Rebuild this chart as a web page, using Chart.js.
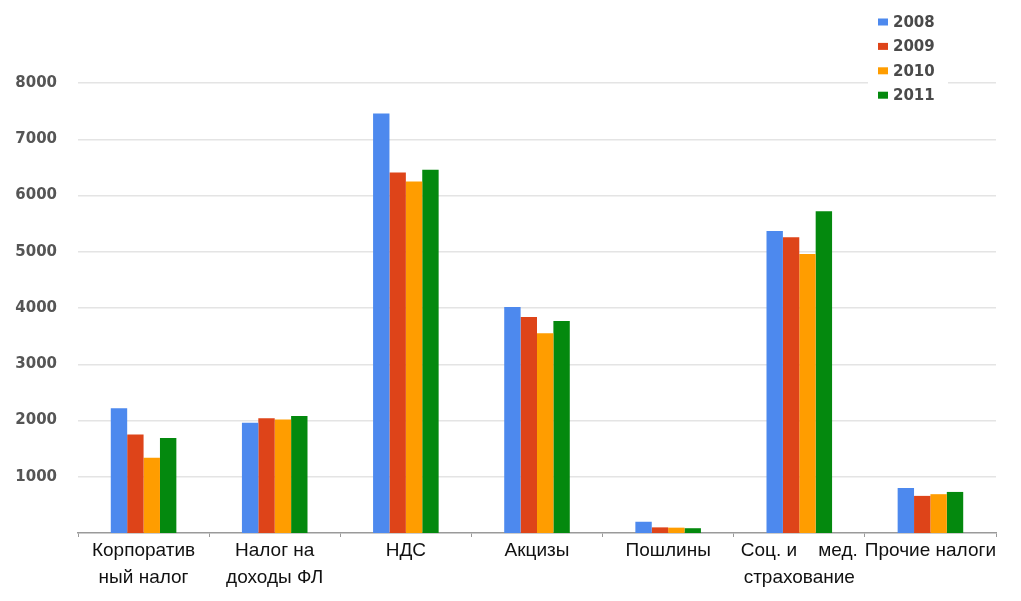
<!DOCTYPE html>
<html>
<head>
<meta charset="utf-8">
<script src="https://cdn.jsdelivr.net/npm/chart.js@4"></script>
<style>
  html, body { margin: 0; padding: 0; background: #fff; }
  #wrap { position: relative; width: 1021px; height: 601px; }
</style>
</head>
<body>
<div id="wrap"><canvas id="c"></canvas></div>
<script>
// Налоговые поступления по видам налогов, 2008–2011
const categories = [
  ['Корпоратив', 'ный налог'],
  ['Налог на', 'доходы ФЛ'],
  'НДС',
  'Акцизы',
  'Пошлины',
  ['Соц. и    мед.', 'страхование'],
  'Прочие налоги'
];
const years = ['2008', '2009', '2010', '2011'];
const values2008 = [2220, 1960, 7460, 4020, 200, 5370, 800];
const values2009 = [1750, 2040, 6410, 3840, 100, 5260, 660];
const values2010 = [1340, 2020, 6250, 3550, 95, 4960, 690];
const values2011 = [1690, 2080, 6460, 3770, 85, 5720, 730];
const yTicks = [1000, 2000, 3000, 4000, 5000, 6000, 7000, 8000];

const colors = ['#4d89ee', '#de4419', '#ff9d00', '#04890e'];
const series = [values2008, values2009, values2010, values2011];

// vertical legend box in the top-right corner, drawn over the plot
const cornerLegend = {
  id: 'cornerLegend',
  afterDraw(chart) {
    const ctx = chart.ctx;
    ctx.save();
    ctx.fillStyle = '#fff';
    ctx.fillRect(868, 8, 80, 100);
    ctx.font = 'bold 15px "DejaVu Sans"';
    ctx.textBaseline = 'middle';
    ctx.textAlign = 'left';
    chart.data.datasets.forEach((ds, i) => {
      const y = 22 + i * 24.4;
      ctx.fillStyle = ds.backgroundColor;
      ctx.fillRect(878, y - 3.5, 10, 7);
      ctx.fillStyle = '#4a4a4a';
      ctx.fillText(ds.label, 893, y + 1);
    });
    ctx.restore();
  }
};

new Chart(document.getElementById('c'), {
  type: 'bar',
  data: {
    labels: categories,
    datasets: years.map((y, i) => ({
      label: y,
      data: series[i],
      backgroundColor: colors[i],
      borderWidth: 0,
      categoryPercentage: 0.5,
      barPercentage: 1.0
    }))
  },
  options: {
    responsive: true,
    maintainAspectRatio: false,
    animation: false,
    layout: { padding: { top: 83, right: 25, left: 0, bottom: 0 } },
    plugins: {
      legend: { display: false },
      tooltip: { enabled: false }
    },
    scales: {
      x: {
        grid: {
          drawOnChartArea: false,
          drawTicks: true,
          tickLength: 4,
          color: '#9a9a9a',
          lineWidth: 1
        },
        border: { display: true, color: '#9a9a9a', width: 1.5 },
        ticks: {
          color: '#111',
          padding: 0,
          maxRotation: 0,
          autoSkip: false,
          font: { family: '"Liberation Sans", Arial, sans-serif', size: 19, lineHeight: 1.42 }
        },
        afterFit(scale) {
          scale.height = 68;
          scale.paddingLeft = 0;
          scale.paddingRight = 0;
        }
      },
      y: {
        min: 0,
        max: 8000,
        afterBuildTicks(scale) {
          scale.ticks = yTicks.map(v => ({ value: v }));
        },
        grid: {
          color: '#e4e4e4',
          lineWidth: 1.5,
          drawTicks: false
        },
        border: { display: false },
        ticks: {
          color: '#555',
          padding: 21,
          callback: v => String(v),
          font: { family: '"DejaVu Sans", sans-serif', size: 15, weight: 'bold' }
        },
        afterFit(scale) {
          scale.width = 78;
        }
      }
    }
  },
  plugins: [cornerLegend]
});
</script>
</body>
</html>
